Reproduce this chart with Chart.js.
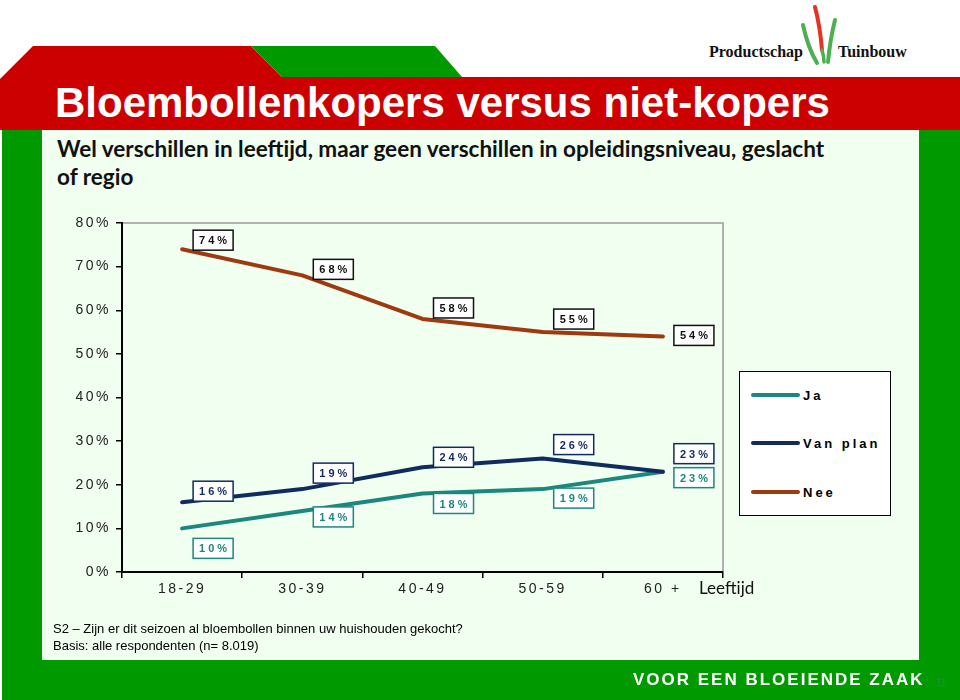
<!DOCTYPE html>
<html>
<head>
<meta charset="utf-8">
<script src="https://cdn.jsdelivr.net/npm/chart.js@4.4.1/dist/chart.umd.min.js"></script>
<style>
  html, body { margin: 0; padding: 0; background: #fff; }
  #slide { position: relative; width: 960px; height: 700px; overflow: hidden; font-family: "Liberation Sans", Arial, sans-serif; }
  #slide > * { position: absolute; }
  #bg { left: 0; top: 0; }
  #title { left: 55px; top: 82px; font-size: 42px; line-height: 42px; font-weight: bold; color: #fff; white-space: nowrap; }
  #subtitle { left: 57px; top: 135px; font-family: Lato, sans-serif; font-weight: bold; font-size: 22.5px; line-height: 28px; color: #111; white-space: nowrap; }
  .logo { top: 43px; font-family: "Liberation Serif", serif; font-weight: bold; font-size: 16px; line-height: 18px; color: #111; }
  #chartBox { left: 0; top: 0; width: 960px; height: 700px; }
  #xTitle { left: 699px; top: 578px; font-family: Lato, sans-serif; font-size: 17px; line-height: 20px; color: #111; }
  #legend { left: 739px; top: 371px; width: 150px; height: 143px; background: #fff; border: 1.5px solid #000; }
  #legend .item { position: absolute; left: 11px; height: 20px; display: flex; align-items: center; }
  #legend .swatch { width: 49px; height: 4px; border-radius: 2px; margin-right: 3px; }
  #legend .txt { font-weight: bold; font-size: 13px; letter-spacing: 3px; color: #000; }
  #notes { left: 53px; top: 620px; font-size: 13px; line-height: 17px; color: #000; }
  #slogan { left: 633px; top: 670px; font-size: 17px; line-height: 20px; font-weight: bold; letter-spacing: 2px; color: #fff; white-space: nowrap; }
  #pageNo { left: 936px; top: 677px; font-size: 10px; color: rgba(70,120,170,0.55); }
</style>
</head>
<body>
<div id="slide">
  <svg id="bg" width="960" height="700">
    <rect x="0" y="0" width="960" height="700" fill="#fff"/>
    <polygon points="33,46 251,46 282,77 960,77 960,130 0,130 0,79" fill="#cc0000"/>
    <polygon points="251,46 435,46 462,77 282,77" fill="#009900"/>
    <rect x="2" y="130" width="40" height="570" fill="#009900"/>
    <rect x="919" y="130" width="41" height="570" fill="#009900"/>
    <rect x="2" y="660" width="958" height="40" fill="#009900"/>
    <rect x="42" y="130" width="877" height="530" fill="#f0fff0"/>
    <path d="M803,25 Q808,48 817,63" stroke="#4caf50" stroke-width="4" fill="none" stroke-linecap="round"/>
    <path d="M815,7 Q820,26 822,50" stroke="#e53222" stroke-width="4" fill="none" stroke-linecap="round"/>
    <path d="M822,50 Q824,57 824,62" stroke="#4caf50" stroke-width="3.5" fill="none" stroke-linecap="round"/>
    <path d="M835,20 Q830,40 828,62" stroke="#4caf50" stroke-width="4" fill="none" stroke-linecap="round"/>
  </svg>
  <div class="logo" style="left:709px">Productschap</div>
  <div class="logo" style="left:838px">Tuinbouw</div>
  <div id="title">Bloembollenkopers versus niet-kopers</div>
  <div id="subtitle">Wel verschillen in leeftijd, maar geen verschillen in opleidingsniveau, geslacht<br>of regio</div>
  <div id="chartBox"><canvas id="chart"></canvas></div>
  <div id="xTitle">Leeftijd</div>
  <div id="legend"></div>
  <div id="notes">S2 – Zijn er dit seizoen al bloembollen binnen uw huishouden gekocht?<br>Basis: alle respondenten (n= 8.019)</div>
  <div id="slogan">VOOR EEN BLOEIENDE ZAAK</div>
  <div id="pageNo">11</div>
</div>
<script>
const ageGroups = ['18-29', '30-39', '40-49', '50-59', '60 +'];
const jaValues = [10, 14, 18, 19, 23];
const vanPlanValues = [16, 19, 24, 26, 23];
const neeValues = [74, 68, 58, 55, 54];
const yTickValues = [0, 10, 20, 30, 40, 50, 60, 70, 80];

// vertical shift of each value box relative to its point
const labelShift = {
  'Ja': [20, 6, 10, 9, 6],
  'Van plan': [-11, -16, -10, -14, -18],
  'Nee': [-9, -6, -11, -13, -1]
};

const valueBoxes = {
  id: 'valueBoxes',
  beforeDraw(chart) {
    chart.ctx.letterSpacing = '2.5px';
  },
  afterDraw(chart) {
    const ctx = chart.ctx;
    const a = chart.chartArea;
    ctx.save();
    ctx.letterSpacing = '0px';
    ctx.strokeStyle = '#999';
    ctx.lineWidth = 1.5;
    ctx.beginPath();
    ctx.moveTo(a.left + 1, a.top);
    ctx.lineTo(a.right, a.top);
    ctx.lineTo(a.right, a.bottom - 1);
    ctx.stroke();

    ctx.font = 'bold 11px "Liberation Sans", Arial, sans-serif';
    ctx.letterSpacing = '3px';
    ctx.textBaseline = 'middle';
    ctx.textAlign = 'left';
    chart.data.datasets.forEach((ds, i) => {
      const meta = chart.getDatasetMeta(i);
      const boxColor = ds.boxColor || ds.borderColor;
      meta.data.forEach((pt, j) => {
        const txt = ds.data[j] + '%';
        const w = ctx.measureText(txt).width - 3 + 12;
        const h = 20;
        const x = pt.x + 11;
        const cy = pt.y + labelShift[ds.label][j];
        ctx.fillStyle = '#fff';
        ctx.fillRect(x, cy - h / 2, w, h);
        ctx.strokeStyle = boxColor;
        ctx.lineWidth = 1.5;
        ctx.strokeRect(x, cy - h / 2, w, h);
        ctx.fillStyle = boxColor;
        ctx.fillText(txt, x + 6, cy + 1);
      });
    });
    ctx.restore();
  }
};

const chart = new Chart(document.getElementById('chart'), {
  type: 'line',
  data: {
    labels: ageGroups,
    datasets: [
      { label: 'Ja', data: jaValues, borderColor: '#1b877d', order: 1 },
      { label: 'Van plan', data: vanPlanValues, borderColor: '#102b5e', order: 0 },
      { label: 'Nee', data: neeValues, borderColor: '#9e3a10', boxColor: '#111', order: 2 }
    ]
  },
  options: {
    responsive: true,
    maintainAspectRatio: false,
    animation: false,
    layout: { padding: { left: 60, top: 223, right: 237, bottom: 100 } },
    elements: {
      line: { borderWidth: 4, tension: 0, borderCapStyle: 'round', borderJoinStyle: 'round', fill: false },
      point: { radius: 0, hoverRadius: 0 }
    },
    plugins: { legend: { display: false }, tooltip: { enabled: false } },
    scales: {
      x: {
        offset: true,
        afterFit: s => { s.height = 28; },
        grid: { offset: true, drawOnChartArea: false, tickLength: 6, color: '#000', lineWidth: 1.5 },
        border: { color: '#000', width: 2 },
        ticks: { color: '#222', padding: 3, font: { family: '"Liberation Sans", Arial, sans-serif', size: 14 } }
      },
      y: {
        min: 0,
        max: 80,
        afterFit: s => { s.width = 62; },
        afterBuildTicks: s => { s.ticks = yTickValues.map(v => ({ value: v })); },
        grid: { drawOnChartArea: false, tickLength: 6, color: '#000', lineWidth: 1.5 },
        border: { color: '#000', width: 2 },
        ticks: {
          color: '#222',
          padding: 5,
          font: { family: '"Liberation Sans", Arial, sans-serif', size: 14 },
          callback: v => v + '%'
        }
      }
    }
  },
  plugins: [valueBoxes]
});

// legend built from the datasets, in dataset order
const legendEl = document.getElementById('legend');
const legendRows = [13, 61, 110];
chart.data.datasets.forEach((ds, i) => {
  const item = document.createElement('div');
  item.className = 'item';
  item.style.top = legendRows[i] + 'px';
  item.innerHTML = '<span class="swatch" style="background:' + ds.borderColor + '"></span><span class="txt">' + ds.label + '</span>';
  legendEl.appendChild(item);
});
</script>
</body>
</html>
